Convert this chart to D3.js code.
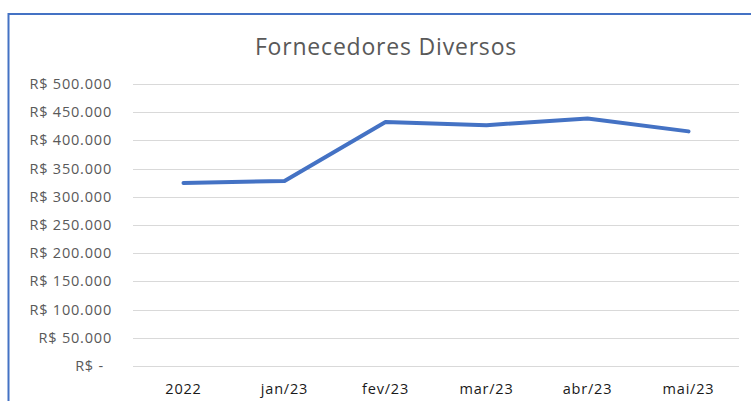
<!DOCTYPE html>
<html>
<head>
<meta charset="utf-8">
<script src="https://cdn.jsdelivr.net/npm/d3@7"></script>
<style>
  body { margin: 0; background: #fff; }
  svg { display: block; font-family: "Open Sans", sans-serif; }
</style>
</head>
<body>
<div id="chart"></div>
<script>
const categories = ['2022', 'jan/23', 'fev/23', 'mar/23', 'abr/23', 'mai/23'];
const values = [324500, 328000, 432500, 427000, 439000, 416000];
const yTicks = [0, 50000, 100000, 150000, 200000, 250000, 300000, 350000, 400000, 450000, 500000];

const width = 751, height = 401;
const margin = { top: 84, right: 12, bottom: 35, left: 133 };

const svg = d3.select('#chart')
  .append('svg')
  .attr('width', width)
  .attr('height', height);

// chart frame (cropped on the right and bottom)
svg.append('rect')
  .attr('x', 8.5)
  .attr('y', 14)
  .attr('width', width + 20)
  .attr('height', height + 20)
  .attr('fill', '#fff')
  .attr('stroke', '#4472c4')
  .attr('stroke-width', 2);

svg.append('text')
  .attr('x', 386)
  .attr('y', 55)
  .attr('text-anchor', 'middle')
  .attr('font-size', 23)
  .attr('letter-spacing', 0.8)
  .attr('fill', '#595959')
  .text('Fornecedores Diversos');

const x = d3.scaleBand()
  .domain(categories)
  .range([margin.left, 739]);

const y = d3.scaleLinear()
  .domain([0, 500000])
  .range([366, margin.top]);

const fmt = v => v === 0 ? 'R$ -' : 'R$ ' + d3.format(',')(v).replace(/,/g, '.');

// gridlines
svg.append('g')
  .selectAll('line')
  .data(yTicks)
  .enter().append('line')
  .attr('x1', margin.left)
  .attr('x2', 739)
  .attr('y1', d => Math.round(y(d)) + 0.5)
  .attr('y2', d => Math.round(y(d)) + 0.5)
  .attr('stroke', '#d9d9d9')
  .attr('stroke-width', 1);

// y labels
svg.append('g')
  .selectAll('text')
  .data(yTicks)
  .enter().append('text')
  .attr('x', d => d === 0 ? 104 : 112)
  .attr('y', d => y(d))
  .attr('dy', '0.35em')
  .attr('text-anchor', 'end')
  .attr('font-size', 14.5)
  .attr('letter-spacing', 0.8)
  .attr('fill', '#595959')
  .text(fmt);

// x labels
svg.append('g')
  .selectAll('text')
  .data(categories)
  .enter().append('text')
  .attr('x', d => x(d) + x.bandwidth() / 2)
  .attr('y', 394)
  .attr('text-anchor', 'middle')
  .attr('font-size', 14.5)
  .attr('letter-spacing', 0.8)
  .attr('fill', '#1a1a1a')
  .text(d => d);

const line = d3.line()
  .x((d, i) => x(categories[i]) + x.bandwidth() / 2)
  .y(d => y(d));

svg.append('path')
  .datum(values)
  .attr('d', line)
  .attr('fill', 'none')
  .attr('stroke', '#4472c4')
  .attr('stroke-width', 4)
  .attr('stroke-linecap', 'round')
  .attr('stroke-linejoin', 'round');
</script>
</body>
</html>
